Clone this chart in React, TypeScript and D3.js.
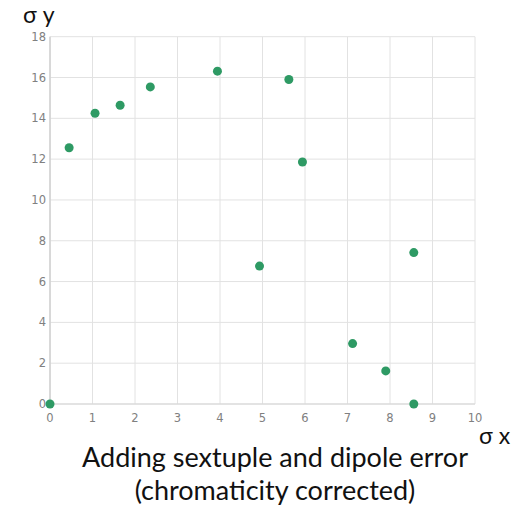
import React from 'react';
import { scaleLinear, range } from 'd3';

const sigmaX = [0, 0.45, 1.06, 1.65, 2.36, 3.94, 5.62, 5.94, 4.93, 8.56, 7.12, 7.9, 8.56];
const sigmaY = [0, 12.56, 14.25, 14.64, 15.54, 16.31, 15.9, 11.86, 6.76, 7.42, 2.96, 1.62, 0];
const xTicks = range(0, 11, 1);
const yTicks = range(0, 19, 2);

const margin = { left: 50, right: 48, top: 36.7, bottom: 105 };
const width = 523;
const height = 509;

export default function App() {
  const x = scaleLinear().domain([0, 10]).range([margin.left, width - margin.right]);
  const y = scaleLinear().domain([0, 18]).range([height - margin.bottom, margin.top]);
  const tickFont = 'DejaVu Sans, sans-serif';

  return (
    <svg width={width} height={height} style={{ position: 'absolute', left: 0, top: 0 }}>
      <rect width={width} height={height} fill="#fff" />
      {/* grid */}
      <g stroke="#e2e2e2" strokeWidth={1}>
        {xTicks.map((t) => (
          <line key={'gx' + t} x1={x(t)} x2={x(t)} y1={y(18)} y2={y(0)} />
        ))}
        {yTicks.map((t) => (
          <line key={'gy' + t} x1={x(0)} x2={x(10)} y1={y(t)} y2={y(t)} />
        ))}
      </g>
      <line x1={x(0)} x2={x(0)} y1={y(18)} y2={y(0) + 4} stroke="#d0d0d0" strokeWidth={1.5} />
      <line x1={x(0)} x2={x(10)} y1={y(0)} y2={y(0)} stroke="#d6d6d6" strokeWidth={1.2} />

      {/* tick labels */}
      <g fontFamily={tickFont} fontSize={11.5} fill="#808080">
        {yTicks.map((t) => (
          <text key={'ly' + t} x={x(0) - 4} y={y(t)} dy="0.35em" textAnchor="end">
            {t}
          </text>
        ))}
        {xTicks.map((t) => (
          <text key={'lx' + t} x={x(t)} y={y(0) + 18} textAnchor="middle">
            {t}
          </text>
        ))}
      </g>

      {/* points */}
      {sigmaX.map((v, i) => (
        <circle key={'p' + i} cx={x(v)} cy={y(sigmaY[i])} r={4.5} fill="#2e9a64" />
      ))}

      {/* axis titles */}
      <text x={23} y={23} fontFamily="Lato, sans-serif" fontSize={23} fill="#111">
        σ y
      </text>
      <text x={479} y={444} fontFamily="Lato, sans-serif" fontSize={23} fill="#111">
        σ x
      </text>

      {/* caption */}
      <g fontFamily="Lato, sans-serif" fontSize={27} fill="#111" textAnchor="middle">
        <text x={275} y={467}>
          Adding sextuple and dipole error
        </text>
        <text x={275} y={500}>
          (chromaticity corrected)
        </text>
      </g>
    </svg>
  );
}
